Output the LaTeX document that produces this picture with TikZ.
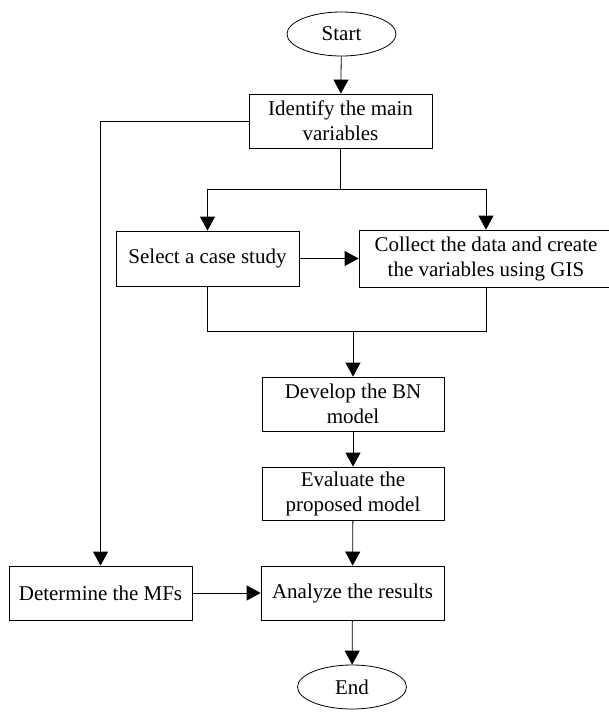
\documentclass[tikz,border=0pt]{standalone}
\usepackage{fontspec}
\setmainfont{Liberation Serif}
\usetikzlibrary{shapes,arrows.meta}

\begin{document}
\begin{tikzpicture}[x=1pt,y=-1pt,
  box/.style={draw=black, line width=0.8pt, rectangle, align=center, inner sep=0pt,
    font=\fontsize{21}{25}\selectfont},
  oval/.style={draw=black, line width=0.8pt, ellipse, inner sep=0pt,
    minimum width=109pt, minimum height=44pt, font=\fontsize{21}{25}\selectfont},
  arr/.style={-{Triangle[width=15pt,length=14pt]}},
  line width=0.8pt]
\useasboundingbox (0,0) rectangle (609,713);
% nodes
\node[oval] (start) at (341.5,34) {Start};
\node[box, minimum width=183pt, minimum height=54pt] (ident) at (340.5,121) {Identify the main\\variables};
\node[box, minimum width=183pt, minimum height=55pt] (select) at (207.5,258.5) {Select a case study};
\node[box, minimum width=254pt, minimum height=57pt] (collect) at (486,258.5) {Collect the data and create\\the variables using GIS};
\node[box, minimum width=182pt, minimum height=54pt] (develop) at (353,404) {Develop the BN\\model};
\node[box, minimum width=182pt, minimum height=53pt] (evaluate) at (353,493.5) {Evaluate the\\proposed model};
\node[box, minimum width=183pt, minimum height=54pt] (analyze) at (352.5,593) {Analyze the results};
\node[box, minimum width=183pt, minimum height=54pt] (determine) at (100.5,593) {Determine the MFs};
\node[oval] (end) at (352,687) {End};
\coordinate (fork) at (340.5,189);
\coordinate (merge) at (353,331);
% connectors
\draw[arr] (start) -- (ident);
\draw[arr] (ident.west) -| (determine.north);
\draw (ident.south) -- (fork);
\draw[arr] (fork) -| (select.north);
\draw[arr] (fork) -| (collect.north);
\draw[arr] (select.east) -- (collect.west);
\draw (select.south) |- (merge);
\draw (collect.south) |- (merge);
\draw[arr] (merge) -- (develop.north);
\draw[arr] (develop) -- (evaluate);
\draw[arr] (evaluate) -- (analyze);
\draw[arr] (determine) -- (analyze);
\draw[arr] (analyze) -- (end);
\end{tikzpicture}
\end{document}
